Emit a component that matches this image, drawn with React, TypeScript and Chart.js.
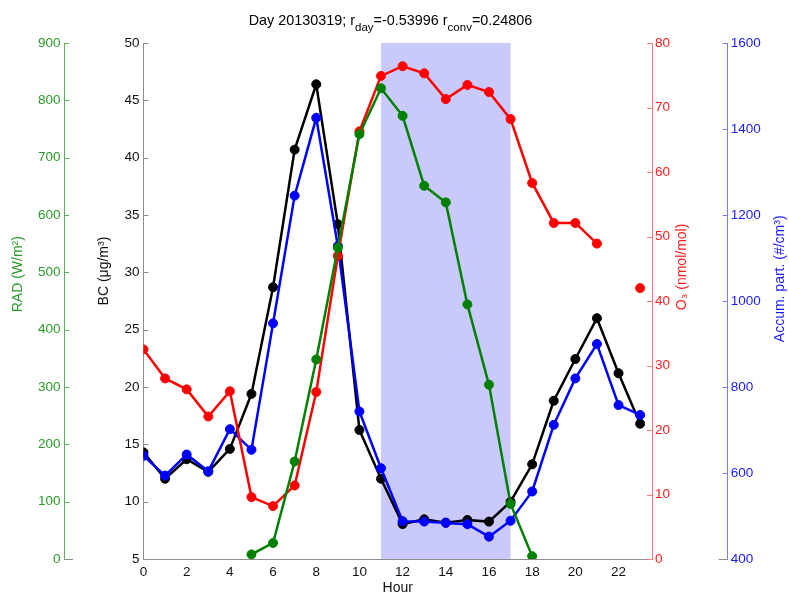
import { useEffect, useRef } from 'react';
import { Chart, registerables } from 'chart.js';

Chart.register(...registerables);

const hours = [0, 1, 2, 3, 4, 5, 6, 7, 8, 9, 10, 11, 12, 13, 14, 15, 16, 17, 18, 19, 20, 21, 22, 23];
const bcValues = [14.3, 12.0, 13.7, 12.6, 14.6, 19.4, 28.7, 40.7, 46.4, 34.2, 16.25, 12.0, 8.05, 8.46, 8.17, 8.4, 8.26, 10.0, 13.26, 18.8, 22.44, 26.0, 21.2, 16.8];
const accumValues = [640, 594, 643, 604, 702, 654, 948, 1245, 1426, 1128, 743, 611, 488, 487, 484, 481, 452, 489, 557, 712, 820, 900, 758, 735];
const o3Values: (number | null)[] = [32.5, 28.0, 26.3, 22.1, 26.0, 9.6, 8.2, 11.4, 25.9, 47, 66.3, 74.9, 76.4, 75.3, 71.3, 73.5, 72.4, 68.2, 58.3, 52.1, 52.1, 48.9, null, 42.0];
const radValues: (number | null)[] = [null, null, null, null, null, 8, 28, 170, 348, 543, 741, 821, 773, 651, 622, 444, 304, 96, 5, null, null, null, null, null];

const hourTicks = [0, 2, 4, 6, 8, 10, 12, 14, 16, 18, 20, 22];
const bcTicks = [5, 10, 15, 20, 25, 30, 35, 40, 45, 50];
const radTicks = [0, 100, 200, 300, 400, 500, 600, 700, 800, 900];
const o3Ticks = [0, 10, 20, 30, 40, 50, 60, 70, 80];
const accumTicks = [400, 600, 800, 1000, 1200, 1400, 1600];
const convStart = 11;
const convEnd = 17;

const titleParts = [
  { text: 'Day 20130319; r', sub: false },
  { text: 'day', sub: true },
  { text: '=-0.53996 r', sub: false },
  { text: 'conv', sub: true },
  { text: '=0.24806', sub: false },
];

const FONT = '"Liberation Sans", Arial, Helvetica, sans-serif';

const C = {
  green: '#008000', greenText: '#2a9a2a', greenLine: '#5cb35c',
  red: '#ff0000', redText: '#ff1a1a', redLine: '#ff7a7a',
  blue: '#0000ff', blueText: '#1a1aff', blueLine: '#7a7aff',
  black: '#000000', blackText: '#111111', grayLine: '#8c8c8c',
  shade: '#c9c9fb',
};

const mk = (vals: (number | null)[]) => hours.map((h, i) => ({ x: h, y: vals[i] }));

const decorPlugin = {
  id: 'decor',
  beforeDatasetsDraw(chart: any) {
    const { ctx, chartArea, scales } = chart;
    const x0 = scales.x.getPixelForValue(convStart);
    const x1 = scales.x.getPixelForValue(convEnd);
    ctx.save();
    ctx.fillStyle = C.shade;
    ctx.fillRect(x0, chartArea.top, x1 - x0, chartArea.bottom - chartArea.top);
    ctx.restore();
  },
  afterDraw(chart: any) {
    const { ctx, chartArea, scales } = chart;
    ctx.save();
    const drawTicks = (scale: any, x: number, dir: number, color: string) => {
      ctx.strokeStyle = color;
      ctx.lineWidth = 1;
      scale.ticks.forEach((t: any) => {
        const y = Math.round(scale.getPixelForValue(t.value)) + 0.5;
        ctx.beginPath();
        ctx.moveTo(x, y);
        ctx.lineTo(x + dir * 5, y);
        ctx.stroke();
      });
    };
    drawTicks(scales.yRad, scales.yRad.right, 1, C.greenLine);
    drawTicks(scales.yBC, scales.yBC.right, 1, C.grayLine);
    drawTicks(scales.yO3, scales.yO3.left, -1, C.redLine);
    drawTicks(scales.yAcc, scales.yAcc.left, -1, C.blueLine);
    ctx.strokeStyle = C.grayLine;
    const yb = Math.round(chartArea.bottom) + 0.5;
    ctx.beginPath();
    ctx.moveTo(scales.yRad.right, yb);
    ctx.lineTo(scales.yRad.right + 9, yb);
    ctx.moveTo(scales.yAcc.left - 9, yb);
    ctx.lineTo(scales.yAcc.left, yb);
    ctx.stroke();

    const h = chartArea.bottom - chartArea.top;
    const vtitle = (text: string, x: number, y: number, color: string) => {
      ctx.save();
      ctx.translate(x, y);
      ctx.rotate(-Math.PI / 2);
      ctx.fillStyle = color;
      ctx.font = `14px ${FONT}`;
      ctx.textAlign = 'center';
      ctx.textBaseline = 'middle';
      ctx.fillText(text, 0, 0);
      ctx.restore();
    };
    vtitle('RAD (W/m²)', scales.yRad.left + 18, chartArea.top + h * 0.448, C.greenText);
    vtitle('BC (μg/m³)', scales.yBC.left + 40, chartArea.top + h * 0.442, C.blackText);
    vtitle('O₃ (nmol/mol)', scales.yO3.right - 46, chartArea.top + h * 0.434, C.redText);
    vtitle('Accum. part. (#/cm³)', scales.yAcc.right - 9, chartArea.top + h * 0.457, C.blueText);

    const mainFont = `14.4px ${FONT}`;
    const subFont = `11.5px ${FONT}`;
    let total = 0;
    const widths = titleParts.map((p) => {
      ctx.font = p.sub ? subFont : mainFont;
      const w = ctx.measureText(p.text).width;
      total += w;
      return w;
    });
    let x = 390.5 - total / 2;
    const base = 25;
    ctx.fillStyle = '#000';
    ctx.textAlign = 'left';
    ctx.textBaseline = 'alphabetic';
    titleParts.forEach((p, i) => {
      ctx.font = p.sub ? subFont : mainFont;
      ctx.fillText(p.text, x, p.sub ? base + 6 : base);
      x += widths[i];
    });
    ctx.restore();
  },
};

const fixedTicks = (vals: number[]) => (scale: any) => {
  scale.ticks = vals.map((v) => ({ value: v }));
};
const fixWidth = (w: number) => (scale: any) => {
  scale.width = w;
};
const plain = (v: any) => String(v);

export default function App() {
  const ref = useRef<HTMLCanvasElement | null>(null);
  useEffect(() => {
    if (!ref.current) return;
    const ds = (label: string, vals: (number | null)[], color: string, axis: string) => ({
      label,
      data: mk(vals),
      yAxisID: axis,
      borderColor: color,
      backgroundColor: color,
      pointBackgroundColor: color,
      pointBorderColor: color,
      borderWidth: 2.5,
      pointRadius: 4.5,
      pointBorderWidth: 1,
      spanGaps: false,
      tension: 0,
    });
    const tickFont = { family: FONT, size: 13.5 };
    const chart = new Chart(ref.current, {
      type: 'line',
      data: {
        datasets: [
          ds('RAD', radValues, C.green, 'yRad'),
          ds('O3', o3Values, C.red, 'yO3'),
          ds('Accum', accumValues, C.blue, 'yAcc'),
          ds('BC', bcValues, C.black, 'yBC'),
        ],
      },
      options: {
        responsive: false,
        animation: false,
        layout: { padding: { top: 43, left: 0, right: 0, bottom: 0 } },
        plugins: { legend: { display: false }, tooltip: { enabled: false }, title: { display: false } },
        scales: {
          x: {
            type: 'linear',
            position: 'bottom',
            min: 0,
            max: 23.55,
            afterBuildTicks: fixedTicks(hourTicks),
            afterFit: (s: any) => { s.height = 38; },
            grid: { display: false, drawTicks: false },
            border: { display: true, color: C.grayLine, width: 1 },
            ticks: { color: C.blackText, font: tickFont, padding: 5, maxRotation: 0, autoSkip: false, callback: plain },
            title: { display: true, text: 'Hour', color: C.blackText, font: { family: FONT, size: 14 }, padding: { top: 0, bottom: 0 } },
          },
          yBC: {
            type: 'linear',
            position: 'left',
            weight: 0,
            min: 5,
            max: 50,
            afterBuildTicks: fixedTicks(bcTicks),
            afterFit: fixWidth(79.5),
            grid: { display: false, drawTicks: false },
            border: { display: true, color: C.grayLine, width: 1 },
            ticks: { color: C.blackText, font: tickFont, padding: 4, callback: plain },
          },
          yRad: {
            type: 'linear',
            position: 'left',
            weight: 1,
            min: 0,
            max: 900,
            afterBuildTicks: fixedTicks(radTicks),
            afterFit: fixWidth(64),
            grid: { display: false, drawTicks: false },
            border: { display: true, color: C.greenLine, width: 1 },
            ticks: { color: C.greenText, font: tickFont, padding: 3.5, callback: plain },
          },
          yO3: {
            type: 'linear',
            position: 'right',
            weight: 0,
            min: 0,
            max: 80,
            afterBuildTicks: fixedTicks(o3Ticks),
            afterFit: fixWidth(75.7),
            grid: { display: false, drawTicks: false },
            border: { display: true, color: C.redLine, width: 1 },
            ticks: { color: C.redText, font: tickFont, padding: 3, callback: plain },
          },
          yAcc: {
            type: 'linear',
            position: 'right',
            weight: 1,
            min: 400,
            max: 1600,
            afterBuildTicks: fixedTicks(accumTicks),
            afterFit: fixWidth(61.3),
            grid: { display: false, drawTicks: false },
            border: { display: true, color: C.blueLine, width: 1 },
            ticks: { color: C.blueText, font: tickFont, padding: 3, callback: plain },
          },
        },
      } as any,
      plugins: [decorPlugin],
    });
    return () => chart.destroy();
  }, []);
  return (
    <div style={{ position: 'absolute', left: 0, top: 0, width: 789, height: 597, background: '#fff' }}>
      <canvas ref={ref} width={789} height={597} style={{ display: 'block' }} />
    </div>
  );
}
